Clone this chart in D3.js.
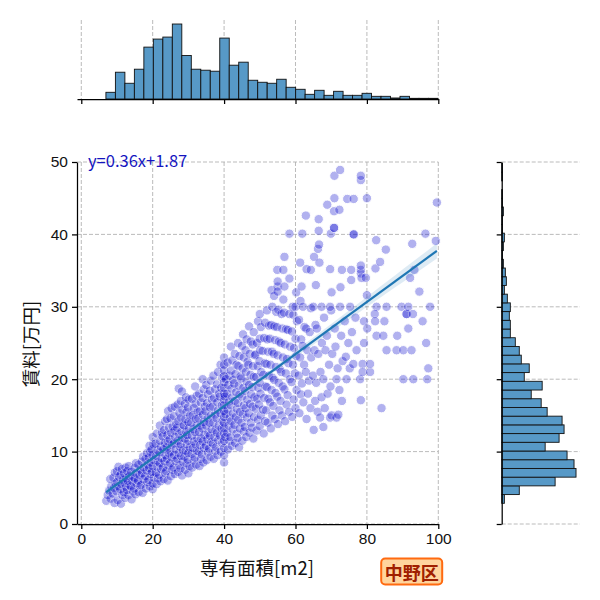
<!DOCTYPE html>
<html>
<head>
<meta charset="utf-8">
<script src="https://cdn.jsdelivr.net/npm/d3@7"></script>
<style>
  body { margin: 0; background: #fff; }
  svg { display: block; font-family: "Noto Sans CJK JP", "Noto Sans", sans-serif; }
</style>
</head>
<body>
<div id="chart"></div>
<script>
// [専有面積, 賃料]
const points = [
  [7.0,3.2],[7.4,4.0],[8.2,3.5],[7.8,4.6],[8.4,5.2],[8.1,6.2],
  [9.3,2.9],[8.8,4.2],[9.2,5.0],[9.6,5.6],[9.0,6.4],[9.4,7.1],
  [10.2,3.3],[9.9,4.5],[10.5,5.2],[10.1,5.8],[10.6,6.5],[10.0,7.3],[10.4,7.9],
  [11.1,2.8],[11.5,4.0],[10.9,4.8],[11.3,5.5],[11.7,6.1],[11.0,6.8],[11.4,7.6],
  [12.3,3.6],[11.9,4.4],[12.5,5.1],[12.1,5.7],[12.6,6.3],[12.0,7.0],[12.4,7.8],
  [13.2,4.0],[12.8,4.7],[13.5,5.4],[13.0,6.0],[13.4,6.6],[12.9,7.3],[13.3,8.0],
  [14.1,3.4],[14.5,4.5],[13.9,5.2],[14.3,5.9],[14.6,6.5],[14.0,7.2],
  [15.2,4.1],[14.8,4.9],[15.5,5.6],[15.0,6.3],[15.4,7.0],[14.9,7.7],[15.3,8.4],
  [16.1,4.4],[16.5,5.3],[15.9,6.0],[16.3,6.8],[16.6,7.5],[16.0,8.2],
  [17.2,4.3],[16.8,5.4],[17.4,6.2],[17.0,7.0],[17.5,7.8],[16.9,8.6],[17.3,9.3],
  [18.1,4.9],[18.5,5.8],[17.9,6.6],[18.3,7.4],[18.6,8.2],[18.0,9.0],[18.4,9.8],
  [19.2,5.2],[18.8,6.1],[19.4,6.9],[19.0,7.7],[19.5,8.5],[18.9,9.2],[19.3,10.0],[19.1,10.8],
  [20.0,4.8],[20.0,5.6],[20.3,6.4],[19.8,7.2],[20.0,8.0],[20.4,8.8],[20.0,9.5],[19.7,10.3],[20.2,11.0],[20.0,12.0],
  [21.1,5.5],[21.5,6.3],[20.9,7.1],[21.3,7.9],[21.6,8.6],[21.0,9.4],[21.4,10.2],[20.8,11.1],[21.2,12.5],
  [22.2,5.9],[21.8,6.8],[22.4,7.6],[22.0,8.4],[22.5,9.1],[21.9,9.9],[22.3,10.7],[22.1,11.5],[22.6,12.6],[22.0,13.6],
  [23.1,6.2],[23.5,7.0],[22.9,7.8],[23.3,8.7],[23.6,9.5],[23.0,10.3],[23.4,11.2],[22.8,12.1],[23.2,13.0],[23.5,14.2],
  [24.2,6.0],[23.8,7.3],[24.4,8.1],[24.0,9.0],[24.5,9.8],[23.9,10.6],[24.3,11.4],[24.1,12.3],[24.6,13.3],[24.0,14.5],[24.3,15.6],
  [25.1,6.6],[25.5,7.5],[24.9,8.4],[25.3,9.2],[25.0,10.0],[25.4,10.9],[24.8,11.7],[25.2,12.6],[25.6,13.5],[25.0,14.6],[25.3,16.0],
  [26.2,6.9],[25.8,7.8],[26.4,8.7],[26.0,9.5],[26.5,10.3],[25.9,11.1],[26.3,12.0],[26.1,12.9],[26.6,13.8],[26.0,14.9],[26.2,16.2],
  [27.1,7.2],[27.5,8.1],[26.9,9.0],[27.3,9.8],[27.6,10.7],[27.0,11.5],[27.4,12.4],[26.8,13.3],[27.2,14.2],[27.5,15.3],[27.0,16.5],[27.3,18.7],
  [28.2,6.7],[27.8,7.7],[28.4,8.6],[28.0,9.4],[28.5,10.2],[27.9,11.0],[28.3,11.9],[28.1,12.8],[28.6,13.7],[28.0,14.7],[28.3,15.8],[27.9,17.0],[28.2,18.3],
  [29.1,7.5],[29.5,8.4],[28.9,9.3],[29.3,10.1],[29.6,11.0],[29.0,11.8],[29.4,12.7],[28.8,13.6],[29.2,14.5],[29.5,15.5],[29.0,16.6],[29.3,17.5],
  [30.0,7.0],[30.3,8.0],[29.8,8.9],[30.0,9.8],[30.4,10.6],[30.0,11.5],[29.7,12.3],[30.2,13.2],[30.0,14.1],[30.5,15.0],[29.9,16.1],[30.1,17.2],
  [31.1,7.8],[31.5,8.8],[30.9,9.7],[31.3,10.5],[31.6,11.4],[31.0,12.2],[31.4,13.1],[30.8,14.0],[31.2,15.0],[31.5,16.0],[31.0,17.3],
  [32.2,8.2],[31.8,9.2],[32.4,10.1],[32.0,11.0],[32.5,11.8],[31.9,12.7],[32.3,13.6],[32.1,14.5],[32.6,15.5],[32.0,16.6],[32.3,17.7],[31.9,19.0],
  [33.1,8.0],[33.5,9.0],[32.9,10.0],[33.3,10.9],[33.6,11.8],[33.0,12.7],[33.4,13.6],[32.8,14.6],[33.2,15.6],[33.5,16.8],[33.0,18.0],
  [34.2,8.5],[33.8,9.6],[34.4,10.5],[34.0,11.4],[34.5,12.3],[33.9,13.2],[34.3,14.1],[34.1,15.1],[34.6,16.2],[34.0,17.4],[34.3,18.6],[34.0,20.0],
  [35.1,8.8],[35.5,9.9],[34.9,10.8],[35.3,11.7],[35.6,12.6],[35.0,13.6],[35.4,14.6],[34.8,15.6],[35.2,16.7],[35.5,17.9],[35.0,19.2],
  [36.2,9.3],[35.8,10.4],[36.4,11.3],[36.0,12.2],[36.5,13.1],[35.9,14.0],[36.3,15.0],[36.1,16.1],[36.6,17.2],[36.0,18.4],[36.3,19.8],
  [37.1,9.0],[37.5,10.1],[36.9,11.1],[37.3,12.0],[37.6,13.0],[37.0,14.0],[37.4,15.1],[36.8,16.2],[37.2,17.4],[37.5,18.6],[37.0,20.5],
  [38.2,9.5],[37.8,10.6],[38.4,11.6],[38.0,12.6],[38.5,13.6],[37.9,14.6],[38.3,15.7],[38.1,16.8],[38.6,18.0],[38.0,19.3],[38.3,21.0],
  [39.1,10.0],[39.5,11.2],[38.9,12.2],[39.3,13.2],[39.6,14.2],[39.0,15.3],[39.4,16.4],[38.8,17.6],[39.2,18.8],[39.5,20.2],[39.0,22.0],
  [40.0,8.5],[40.0,9.5],[40.0,10.5],[40.0,11.5],[40.0,12.5],[40.0,13.2],[40.0,14.0],[40.0,14.8],[40.0,15.6],[40.0,16.4],[40.0,17.2],
  [40.0,18.0],[40.0,18.8],[40.0,19.6],[40.0,20.4],[40.0,21.2],[40.0,22.0],[40.0,23.0],[40.3,12.0],[40.4,15.2],[40.2,17.6],[40.5,20.0],
  [41.1,10.3],[41.5,11.5],[40.9,12.6],[41.3,13.6],[41.6,14.7],[41.0,15.8],[41.4,16.9],[40.8,18.0],[41.2,19.2],[41.5,20.5],[41.0,22.3],
  [42.2,10.8],[41.8,12.0],[42.4,13.1],[42.0,14.2],[42.5,15.3],[41.9,16.4],[42.3,17.5],[42.1,18.7],[42.6,19.9],[42.0,21.2],[42.3,22.6],[41.9,24.5],
  [43.1,11.2],[43.5,12.5],[42.9,13.7],[43.3,14.8],[43.6,15.9],[43.0,17.0],[43.4,18.2],[42.8,19.4],[43.2,20.7],[43.5,22.0],[43.0,23.5],
  [44.2,10.6],[43.8,11.9],[44.4,13.2],[44.0,14.4],[44.5,15.5],[43.9,16.7],[44.3,17.9],[44.1,19.1],[44.6,20.4],[44.0,21.8],[44.3,23.2],[43.9,25.0],
  [45.1,11.5],[45.5,12.8],[44.9,14.0],[45.3,15.2],[45.6,16.4],[45.0,17.6],[45.4,18.8],[44.8,20.1],[45.2,21.5],[45.5,23.0],[45.0,24.6],[45.3,26.2],
  [46.2,12.0],[45.8,13.4],[46.4,14.7],[46.0,16.0],[46.5,17.2],[45.9,18.4],[46.3,19.7],[46.1,21.0],[46.6,22.4],[46.0,24.0],[46.3,25.5],
  [47.1,12.6],[47.5,14.0],[46.9,15.3],[47.3,16.6],[47.6,17.9],[47.0,19.2],[47.4,20.6],[46.8,22.0],[47.2,23.5],[47.5,25.2],[47.0,27.3],
  [48.2,11.8],[47.8,13.3],[48.4,14.8],[48.0,16.2],[48.5,17.5],[47.9,18.9],[48.3,20.3],[48.1,21.8],[48.6,23.3],[48.0,24.8],[48.3,26.5],
  [49.1,12.9],[49.5,14.4],[48.9,15.9],[49.3,17.3],[49.6,18.8],[49.0,20.3],[49.4,21.8],[48.8,23.4],[49.2,25.0],[49.5,28.0],
  [50.0,13.5],[50.3,15.0],[49.8,16.5],[50.2,18.0],[50.0,19.5],[50.4,21.0],[49.9,22.5],[50.1,24.0],[50.0,25.6],[50.3,27.2],[50.0,29.0],
  [51.1,12.5],[51.5,14.2],[50.9,15.8],[51.3,17.4],[51.6,19.0],[51.0,20.6],[51.4,22.2],[50.8,23.9],[51.2,25.7],[51.5,27.8],
  [52.2,14.0],[51.8,15.7],[52.4,17.3],[52.0,18.9],[52.5,20.5],[51.9,22.1],[52.3,23.8],[52.1,25.5],[52.6,27.4],[52.0,29.5],
  [53.1,13.2],[53.5,15.0],[52.9,16.8],[53.3,18.5],[53.6,20.2],[53.0,22.0],[53.4,23.8],[52.8,25.6],[53.2,27.5],[53.5,30.0],[53.3,32.3],
  [54.2,14.5],[53.8,16.3],[54.4,18.1],[54.0,19.9],[54.5,21.7],[53.9,23.5],[54.3,25.4],[54.1,27.3],[54.6,29.3],[54.0,31.5],
  [55.1,13.8],[55.5,15.7],[54.9,17.6],[55.3,19.5],[55.6,21.4],[55.0,23.3],[55.4,25.2],[54.8,27.2],[55.2,29.6],[55.0,32.8],[55.0,33.5],[54.9,35.1],[55.0,32.1],
  [56.2,15.0],[55.8,17.0],[56.4,19.0],[56.0,21.0],[56.5,23.0],[55.9,25.0],[56.3,27.0],[56.1,29.0],[56.6,31.0],[56.6,35.1],[56.9,32.8],[56.9,36.9],
  [57.1,14.2],[57.5,16.5],[56.9,18.6],[57.3,20.8],[57.6,22.8],[57.0,24.8],[57.4,26.9],[56.8,29.2],
  [58.2,15.5],[57.8,17.8],[58.4,20.0],[58.0,22.2],[58.5,24.5],[57.9,26.8],[58.3,29.0],[58.3,33.9],[58.3,40.1],
  [59.1,14.8],[59.5,17.2],[58.9,19.6],[59.3,22.0],[59.6,24.3],[59.0,26.6],[59.4,28.9],[59.2,30.0],
  [60.0,16.0],[60.3,18.5],[59.8,20.8],[60.2,23.2],[60.0,25.6],[60.4,28.0],[60.0,30.0],[60.2,32.0],
  [61.1,15.3],[61.5,17.9],[60.9,20.5],[61.3,23.0],[61.6,25.5],[61.0,28.2],[61.4,30.8],[61.7,32.8],[61.3,36.1],[61.9,40.1],
  [62.2,16.8],[61.8,19.4],[62.4,22.0],[62.0,24.6],[62.5,27.2],[62.1,30.0],
  [63.1,14.5],[63.5,18.0],[62.9,21.0],[63.3,24.0],[63.0,27.0],[63.1,35.2],[62.9,42.6],
  [64.2,16.0],[63.8,19.8],[64.4,23.0],[64.0,26.5],[64.3,29.8],[64.3,35.1],
  [65.1,13.0],[65.5,17.0],[64.9,20.5],[65.3,24.0],[65.6,27.5],[65.0,30.0],[65.7,33.0],[65.2,36.9],
  [66.2,15.5],[65.8,19.5],[66.4,23.5],[66.0,27.0],[66.7,36.1],[66.3,38.0],[66.6,38.6],[66.5,40.5],[66.5,42.1],
  [67.8,13.4],[66.9,14.7],[67.3,17.5],[67.0,21.0],[67.4,25.0],[67.3,30.0],
  [68.2,16.0],[67.8,20.0],[68.4,24.0],[68.0,28.5],[68.9,44.1],
  [69.7,14.7],[69.0,18.0],[69.4,22.0],[68.8,26.0],[69.7,35.2],[69.9,40.1],
  [70.1,15.0],[69.8,19.0],[70.3,23.5],[70.0,29.5],[70.1,32.0],[69.7,30.0],[70.8,40.9],[70.8,40.9],[70.8,43.2],[70.9,45.0],[70.9,48.1],
  [71.5,14.7],[71.5,20.0],[71.2,24.5],[71.0,27.0],
  [72.0,15.1],[72.3,18.5],[71.8,21.5],[72.5,30.0],[72.6,32.7],[72.3,43.4],[72.5,48.9],
  [73.0,17.0],[73.2,22.5],[72.8,26.0],[73.0,35.1],
  [74.3,20.0],[74.1,23.1],[73.8,28.0],[74.5,44.9],
  [75.2,21.5],[74.8,25.0],[75.3,30.0],[75.6,33.7],[75.6,35.1],
  [76.2,22.1],[75.8,26.5],[76.3,40.0],[76.3,40.0],[76.3,44.9],
  [77.1,24.0],[76.8,28.5],
  [78.3,17.1],[78.1,20.0],[78.3,34.6],[78.3,35.1],[78.3,35.7],[78.3,47.5],[78.3,48.1],
  [78.8,22.1],[79.2,25.0],[79.2,28.0],[78.5,34.0],[78.8,21.0],
  [80.9,21.0],[80.9,22.1],[80.1,27.0],[80.0,31.6],[79.7,34.0],[80.0,45.0],
  [82.7,30.0],[82.2,29.0],[82.3,28.0],[82.4,35.3],[82.6,39.2],[82.7,26.0],
  [83.7,36.2],[84.1,16.0],[84.6,26.0],[84.9,28.0],[85.5,24.0],[85.5,30.0],[85.3,37.9],
  [88.3,24.0],[88.5,26.0],[89.7,30.0],[90.2,24.0],[90.2,20.0],[91.1,29.0],[91.1,29.0],
  [91.6,27.0],[91.6,30.0],[92.5,24.0],[92.1,34.0],[92.9,29.0],[93.0,20.0],[93.3,35.1],
  [92.7,38.7],[94.7,32.1],[95.6,28.0],[96.6,25.0],[96.4,40.1],[96.9,20.0],[97.2,21.5],
  [97.7,30.0],[99.3,39.1],[99.6,44.4]
];

// marginal histograms (counts per bin)
const xBinRange = [6.9, 99.9];
const xCounts = [20,80,47,89,155,179,185,224,130,89,86,83,182,101,110,56,50,47,59,35,29,14,26,11,23,11,11,17,8,8,3,8,2,2,2];
const yBinRange = [2.86, 49.8];
const yCounts = [8,53,161,224,218,197,131,173,188,182,137,119,89,122,68,83,59,53,41,26,26,23,26,17,8,14,11,5,2,5,8,2,2,5,2,2,0,2,2];

// fitted line and its confidence band half-width
const slope = 0.36, intercept = 1.87;
const ciX = [7, 20, 35, 50, 65, 80, 100];
const ciHalf = [0.45, 0.25, 0.15, 0.25, 0.5, 0.7, 1.05];

const xTicks = [0, 20, 40, 60, 80, 100];
const yTicks = [0, 10, 20, 30, 40, 50];

const svg = d3.select("#chart").append("svg").attr("width", 600).attr("height", 600);

const x = d3.scaleLinear().domain([-1.2, 100]).range([77, 438.3]);
const y = d3.scaleLinear().domain([0, 50]).range([524, 162]);
const topH = d3.scaleLinear().domain([0, 236]).range([99, 20]);
const rightW = d3.scaleLinear().domain([0, 236]).range([501.7, 580]);

const gridStyle = (sel) => sel.attr("stroke", "#aaaaaa").attr("stroke-width", 0.8).attr("stroke-dasharray", "4,2");

// grids
const grid = svg.append("g");
grid.selectAll(".gx").data(xTicks).join("line")
  .attr("x1", d => x(d)).attr("x2", d => x(d)).attr("y1", 162).attr("y2", 524).call(gridStyle);
grid.selectAll(".gy").data(yTicks).join("line")
  .attr("x1", 77).attr("x2", 438.3).attr("y1", d => y(d)).attr("y2", d => y(d)).call(gridStyle);
grid.selectAll(".gtx").data(xTicks).join("line")
  .attr("x1", d => x(d)).attr("x2", d => x(d)).attr("y1", 20).attr("y2", 99).call(gridStyle);
grid.selectAll(".gry").data(yTicks).join("line")
  .attr("x1", 501.7).attr("x2", 580).attr("y1", d => y(d)).attr("y2", d => y(d)).call(gridStyle);

// scatter
svg.append("g").selectAll("circle").data(points).join("circle")
  .attr("cx", d => x(d[0])).attr("cy", d => y(d[1])).attr("r", 4.7)
  .attr("fill", "#0000cd").attr("stroke", "#ffffff").attr("stroke-width", 1)
  .attr("opacity", 0.3);

// regression band + line
const xMin = d3.min(points, d => d[0]), xMax = d3.max(points, d => d[0]);
const half = d3.scaleLinear().domain(ciX).range(ciHalf);
const bandX = d3.range(xMin, xMax + 0.01, (xMax - xMin) / 40);
svg.append("path")
  .datum(bandX)
  .attr("fill", "#1f77b4").attr("fill-opacity", 0.15)
  .attr("d", d3.area()
    .x(d => x(d))
    .y0(d => y(slope * d + intercept - half(d)))
    .y1(d => y(slope * d + intercept + half(d))));
svg.append("line")
  .attr("x1", x(xMin)).attr("y1", y(slope * xMin + intercept))
  .attr("x2", x(xMax)).attr("y2", y(slope * xMax + intercept))
  .attr("stroke", "#1f77b4").attr("stroke-width", 2.2);

// top histogram
const xBinW = (xBinRange[1] - xBinRange[0]) / xCounts.length;
svg.append("g").selectAll("rect").data(xCounts).join("rect")
  .attr("x", (d, i) => x(xBinRange[0] + i * xBinW))
  .attr("width", x(xBinW) - x(0))
  .attr("y", d => topH(d))
  .attr("height", d => topH(0) - topH(d))
  .attr("fill", "#5799c7").attr("stroke", "#111").attr("stroke-width", 0.9);

// right histogram
const yBinW = (yBinRange[1] - yBinRange[0]) / yCounts.length;
svg.append("g").selectAll("rect").data(yCounts).join("rect")
  .attr("x", rightW(0))
  .attr("width", d => rightW(d) - rightW(0))
  .attr("y", (d, i) => y(yBinRange[0] + (i + 1) * yBinW))
  .attr("height", y(0) - y(yBinW))
  .attr("fill", "#5799c7").attr("stroke", "#111").attr("stroke-width", 0.9);

// axes
const styleAxis = (g) => {
  g.select(".domain").attr("stroke", "#000").attr("stroke-width", 1.25);
  g.selectAll(".tick line").attr("stroke", "#000").attr("stroke-width", 1.25);
  g.selectAll(".tick text").attr("fill", "#111").style("font-size", "15.5px");
};

svg.append("g").attr("transform", "translate(0,524)")
  .call(d3.axisBottom(x).tickValues(xTicks).tickSize(5).tickSizeOuter(0).tickPadding(4))
  .call(styleAxis);
svg.append("g").attr("transform", "translate(77,0)")
  .call(d3.axisLeft(y).tickValues(yTicks).tickSize(5).tickSizeOuter(0).tickPadding(4))
  .call(styleAxis);
svg.append("g").attr("transform", "translate(0,99)")
  .call(d3.axisBottom(x).tickValues(xTicks).tickSize(5).tickSizeOuter(0).tickFormat(""))
  .call(styleAxis);
svg.append("g").attr("transform", "translate(501.7,0)")
  .call(d3.axisLeft(y).tickValues(yTicks).tickSize(5).tickSizeOuter(0).tickFormat(""))
  .call(styleAxis);

// labels
svg.append("text").attr("x", 257).attr("y", 567).attr("text-anchor", "middle")
  .attr("dominant-baseline", "central").style("font-size", "18.5px").attr("fill", "#111")
  .text("専有面積[m2]");
svg.append("text").attr("transform", "translate(30,344) rotate(-90)").attr("text-anchor", "middle")
  .attr("dominant-baseline", "central").style("font-size", "18.5px").attr("fill", "#111")
  .text("賃料[万円]");
svg.append("text").attr("x", 88).attr("y", 166.5)
  .style("font-size", "16.5px").attr("fill", "#1515c0")
  .text(`y=${slope}x+${intercept}`);

// ward badge
const badge = svg.append("g").attr("transform", "translate(411.7,571.5)");
badge.append("rect").attr("x", -30.5).attr("y", -13).attr("width", 61).attr("height", 26).attr("rx", 4)
  .attr("fill", "#ffd59e").attr("stroke", "#ff6a10").attr("stroke-width", 2);
badge.append("text").attr("text-anchor", "middle").attr("dominant-baseline", "central")
  .style("font-size", "18px").style("font-weight", "bold").attr("fill", "#a02000")
  .text("中野区");
</script>
</body>
</html>
